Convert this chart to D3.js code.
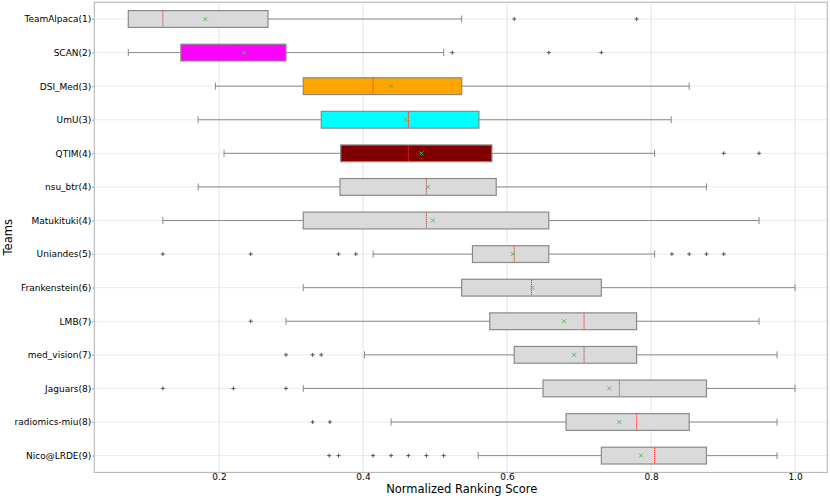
<!DOCTYPE html>
<html>
<head>
<meta charset="utf-8">
<script src="https://cdn.jsdelivr.net/npm/d3@7"></script>
<style>
  body { margin: 0; background: #fff; }
  text { font-family: "DejaVu Sans", sans-serif; }
</style>
</head>
<body>
<div id="chart"></div>
<script>
// data
var teams = ["TeamAlpaca(1)", "SCAN(2)", "DSI_Med(3)", "UmU(3)", "QTIM(4)", "nsu_btr(4)",
    "Matukituki(4)", "Uniandes(5)", "Frankenstein(6)", "LMB(7)", "med_vision(7)",
    "Jaguars(8)", "radiomics-miu(8)", "Nico@LRDE(9)"];
var whiskerLow  = [0.074, 0.074, 0.195, 0.171, 0.207, 0.171, 0.122, 0.414, 0.317, 0.293, 0.402, 0.317, 0.439, 0.560];
var q1          = [0.074, 0.147, 0.317, 0.342, 0.369, 0.368, 0.317, 0.552, 0.537, 0.576, 0.610, 0.650, 0.682, 0.731];
var medians     = [0.122, 0.220, 0.414, 0.463, 0.463, 0.488, 0.488, 0.610, 0.634, 0.707, 0.707, 0.756, 0.780, 0.805];
var q3          = [0.268, 0.293, 0.537, 0.561, 0.579, 0.585, 0.658, 0.658, 0.731, 0.780, 0.780, 0.877, 0.853, 0.877];
var whiskerHigh = [0.537, 0.512, 0.853, 0.828, 0.805, 0.877, 0.950, 0.805, 1.000, 0.950, 0.975, 1.000, 0.975, 0.975];
var means       = [0.181, 0.235, 0.439, 0.459, 0.481, 0.490, 0.497, 0.608, 0.635, 0.679, 0.693, 0.742, 0.756, 0.786];
var outliers = [
    [0.610, 0.780],
    [0.524, 0.658, 0.731],
    [],
    [],
    [0.901, 0.950],
    [],
    [],
    [0.122, 0.244, 0.366, 0.390, 0.829, 0.853, 0.877, 0.901],
    [],
    [0.244],
    [0.293, 0.330, 0.342],
    [0.122, 0.220, 0.293],
    [0.330, 0.354],
    [0.353, 0.366, 0.414, 0.439, 0.463, 0.488, 0.512]
];
var xTicks = [0.2, 0.4, 0.6, 0.8, 1.0];

// box colours, default grey
var specialFill = {"SCAN(2)": "#ff00ff", "DSI_Med(3)": "#ffa500", "UmU(3)": "#00ffff", "QTIM(4)": "#800000"};

var rows = teams.map(function(t, i) {
    return {team: t, lo: whiskerLow[i], q1: q1[i], med: medians[i], q3: q3[i],
            hi: whiskerHigh[i], mean: means[i], out: outliers[i]};
});

const W = 830, H = 498;
const margin = {top: 2.2, right: 2.7, bottom: 25.6, left: 94.3};
var width = W - margin.left - margin.right;
var height = H - margin.top - margin.bottom;

var svg = d3.select("#chart").append("svg")
    .attr("width", W).attr("height", H)
    .append("g")
        .attr("transform", "translate(" + margin.left + "," + margin.top + ")");

var xScale = d3.scaleLinear().domain([0.0268, 1.0448]).range([0, width]);
var yScale = d3.scalePoint().domain(teams).range([0, height]).padding(0.5);
var step = yScale.step();
var boxH = step * 0.5;
var capH = 7;

// grid
svg.append("g").selectAll("line.vgrid")
    .data(xTicks).enter().append("line")
    .attr("x1", d => xScale(d)).attr("x2", d => xScale(d))
    .attr("y1", 0).attr("y2", height)
    .style("stroke", "#e3e3e3").style("stroke-width", 1);
svg.append("g").selectAll("line.hgrid")
    .data(teams).enter().append("line")
    .attr("x1", 0).attr("x2", width)
    .attr("y1", d => yScale(d)).attr("y2", d => yScale(d))
    .style("stroke", "#ebebeb").style("stroke-width", 1);

// axes
var xAxis = d3.axisBottom(xScale).tickValues(xTicks).tickFormat(d3.format(".1f")).tickSize(0).tickPadding(2);
var yAxis = d3.axisLeft(yScale).tickSize(2.5).tickPadding(0.5);

var gx = svg.append("g").attr("class", "x-axis")
    .attr("transform", "translate(0," + height + ")")
    .call(xAxis);
var gy = svg.append("g").attr("class", "y-axis").call(yAxis);
[gx, gy].forEach(function(g) {
    g.select(".domain").remove();
    g.selectAll(".tick line").style("stroke", "#b0b0b0");
    g.selectAll(".tick text").style("font-size", "9px").style("fill", "#000")
        .style("font-family", "DejaVu Sans");
});
gx.selectAll(".tick text").attr("dy", "0.71em").attr("y", 1.5);

// frame
svg.append("rect")
    .attr("x", 0).attr("y", 0).attr("width", width).attr("height", height)
    .style("fill", "none").style("stroke", "#b0b0b0").style("stroke-width", 1);

// boxes
var bubble = svg.selectAll("g.box")
    .data(rows).enter()
    .append("g").attr("class", "box")
    .attr("transform", d => "translate(0," + yScale(d.team) + ")");

bubble.append("line")
    .attr("x1", d => xScale(d.lo)).attr("x2", d => xScale(d.q1))
    .attr("y1", 0).attr("y2", 0)
    .style("stroke", "#8a8a8a").style("stroke-width", 1);
bubble.append("line")
    .attr("x1", d => xScale(d.q3)).attr("x2", d => xScale(d.hi))
    .attr("y1", 0).attr("y2", 0)
    .style("stroke", "#8a8a8a").style("stroke-width", 1);
bubble.filter(d => d.lo < d.q1).append("line")
    .attr("x1", d => xScale(d.lo)).attr("x2", d => xScale(d.lo))
    .attr("y1", -capH / 2).attr("y2", capH / 2)
    .style("stroke", "#8a8a8a").style("stroke-width", 1);
bubble.append("line")
    .attr("x1", d => xScale(d.hi)).attr("x2", d => xScale(d.hi))
    .attr("y1", -capH / 2).attr("y2", capH / 2)
    .style("stroke", "#8a8a8a").style("stroke-width", 1);

bubble.append("rect")
    .attr("x", d => xScale(d.q1))
    .attr("width", d => xScale(d.q3) - xScale(d.q1))
    .attr("y", -boxH / 2).attr("height", boxH)
    .style("fill", d => specialFill[d.team] || "#dadada")
    .style("stroke", "#8a8a8a").style("stroke-width", 1.2);

bubble.append("line")
    .attr("x1", d => xScale(d.med)).attr("x2", d => xScale(d.med))
    .attr("y1", -boxH / 2 + 0.6).attr("y2", boxH / 2 - 0.6)
    .style("stroke", "#ff2a2a").style("stroke-width", 1)
    .style("stroke-dasharray", "1.2,0.8");

// mean markers (x)
var ms = 2;
bubble.append("path")
    .attr("d", d => {
        var cx = xScale(d.mean);
        return "M" + (cx - ms) + "," + (-ms) + "L" + (cx + ms) + "," + ms +
               "M" + (cx - ms) + "," + ms + "L" + (cx + ms) + "," + (-ms);
    })
    .style("stroke", "#5cb85c").style("stroke-width", 1).style("fill", "none");

// outliers (+)
var os = 2;
bubble.selectAll("path.flier")
    .data(d => d.out).enter()
    .append("path").attr("class", "flier")
    .attr("d", v => {
        var cx = xScale(v);
        return "M" + (cx - os) + ",0L" + (cx + os) + ",0M" + cx + "," + (-os) + "L" + cx + "," + os;
    })
    .style("stroke", "#555").style("stroke-width", 1).style("fill", "none");

// axis labels
svg.append("text")
    .attr("x", width / 2 + 1).attr("y", height + 21)
    .attr("text-anchor", "middle")
    .style("font-size", "11.5px")
    .text("Normalized Ranking Score");
svg.append("text")
    .attr("transform", "translate(" + (-margin.left + 11.5) + "," + (height / 2) + ") rotate(-90)")
    .attr("text-anchor", "middle")
    .style("font-size", "11.5px")
    .text("Teams");
</script>
</body>
</html>
